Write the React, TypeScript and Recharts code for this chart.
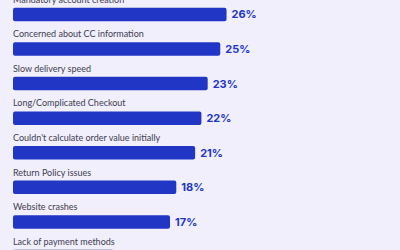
import { BarChart, Bar, XAxis, YAxis, LabelList } from "recharts"

const reasons = [
  "Mandatory account creation",
  "Concerned about CC information",
  "Slow delivery speed",
  "Long/Complicated Checkout",
  "Couldn't calculate order value initially",
  "Return Policy issues",
  "Website crashes",
  "Lack of payment methods",
]
const shares = [26, 25, 23, 22, 21, 18, 17, 8]

// bars grow from a shifted origin, as in the source graphic
const AXIS_BASE = -8
const AXIS_MAX = 48

const BLUE = "#2236c6"

const data = reasons.map((name, i) => ({ name, value: shares[i] }))

function NameLabel(props: any) {
  const { x, y, value } = props
  return (
    <text x={x} y={y - 5} fontSize={9} fill="#404050" fontFamily="Lato, sans-serif">
      {value}
    </text>
  )
}

function ValueLabel(props: any) {
  const { x, y, width, height, value } = props
  return (
    <text
      x={x + width + 5}
      y={y + height / 2}
      dy="0.36em"
      fontSize={11}
      fontWeight={700}
      fill={BLUE}
      fontFamily="Inter, sans-serif"
    >
      {value}%
    </text>
  )
}

export default function App() {
  return (
    <div style={{ position: "fixed", inset: 0, background: "#f1effb", overflow: "hidden" }}>
      <div style={{ position: "absolute", top: -20, left: 0 }}>
        <BarChart
          width={400}
          height={300}
          data={data}
          layout="vertical"
          margin={{ top: 16.7, right: 35.3, bottom: 6.7, left: 13 }}
        >
          <XAxis type="number" domain={[AXIS_BASE, AXIS_MAX]} hide allowDataOverflow />
          <YAxis type="category" dataKey="name" hide />
          <Bar
            dataKey={(d: any) => [AXIS_BASE, d.value]}
            fill={BLUE}
            barSize={13.5}
            radius={2}
            isAnimationActive={false}
          >
            <LabelList dataKey="name" content={NameLabel} />
            <LabelList dataKey="value" content={ValueLabel} />
          </Bar>
        </BarChart>
      </div>
    </div>
  )
}
